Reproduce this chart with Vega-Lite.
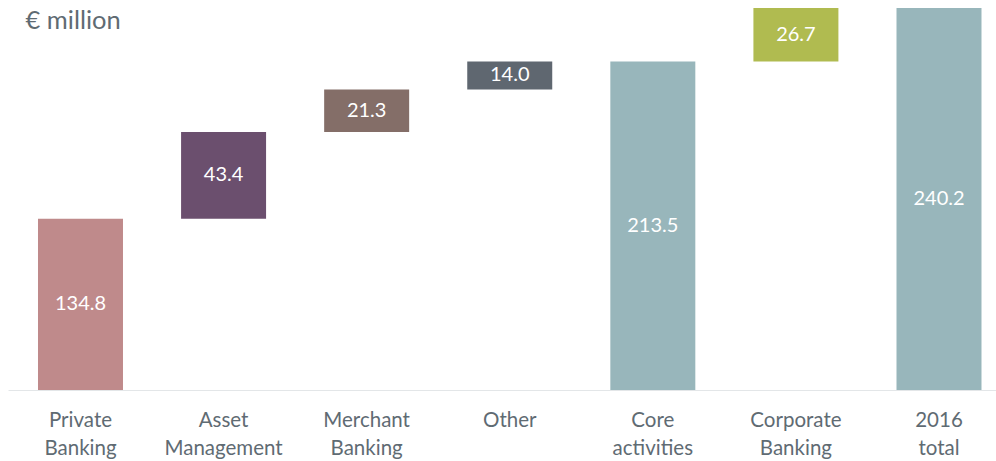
{
  "$schema": "https://vega.github.io/schema/vega-lite/v6.json",
  "autosize": "none",
  "width": 988,
  "height": 382,
  "padding": {"left": 8, "right": 0, "top": 8, "bottom": 71},
  "background": "white",
  "config": {"view": {"stroke": null}, "font": "Lato"},
  "data": {"values": [
    {"cat": "Private Banking", "start": 0, "end": 134.8, "value": "134.8"},
    {"cat": "Asset Management", "start": 134.8, "end": 178.2, "value": "43.4"},
    {"cat": "Merchant Banking", "start": 178.2, "end": 199.5, "value": "21.3"},
    {"cat": "Other", "start": 199.5, "end": 213.5, "value": "14.0"},
    {"cat": "Core activities", "start": 0, "end": 213.5, "value": "213.5"},
    {"cat": "Corporate Banking", "start": 213.5, "end": 240.2, "value": "26.7"},
    {"cat": "2016 total", "start": 0, "end": 240.2, "value": "240.2"}
  ]},
  "transform": [{"calculate": "(max(datum.start, 49.2) + datum.end) / 2", "as": "mid"}],
  "encoding": {
    "x": {"field": "cat", "type": "nominal", "sort": null,
      "scale": {"paddingInner": 0.406, "paddingOuter": 0.1555, "align": 0.674},
      "axis": {"title": null, "labelAngle": 0, "ticks": false, "domainColor": "#e3e6e8", "domainWidth": 1,
        "labelExpr": "split(datum.label, ' ')", "labelFont": "Lato", "labelFontSize": 20.5, "labelLineHeight": 28,
        "labelColor": "#5f6b73", "labelPadding": 20, "labelBaseline": "top"}}
  },
  "layer": [
    {"mark": {"type": "bar"},
     "encoding": {
       "y": {"field": "start", "type": "quantitative", "title": "€ million", "scale": {"domain": [49.2, 240.2], "clamp": true, "nice": false, "zero": false},
         "axis": {"title": "€ million", "labels": false, "ticks": false, "domain": false, "grid": false,
           "titleAngle": 0, "titleAlign": "left", "titleBaseline": "alphabetic", "titleX": 17, "titleY": 20,
           "titleFont": "Lato", "titleFontSize": 25.5, "titleFontWeight": "normal", "titleColor": "#5f6b73"}},
       "y2": {"field": "end"},
       "color": {"field": "cat", "type": "nominal", "legend": null,
         "scale": {"domain": ["Private Banking", "Asset Management", "Merchant Banking", "Other", "Core activities", "Corporate Banking", "2016 total"],
                   "range": ["#bf8a8b", "#6b4f6e", "#846e68", "#5f6770", "#98b6bb", "#b0bb50", "#98b6bb"]}}
     }},
    {"mark": {"type": "text", "color": "white", "fontSize": 20, "font": "Lato", "baseline": "middle", "align": "center"},
     "encoding": {
       "y": {"field": "mid", "type": "quantitative", "title": "€ million", "scale": {"domain": [49.2, 240.2], "clamp": true, "nice": false, "zero": false},
         "axis": {"title": "€ million", "labels": false, "ticks": false, "domain": false, "grid": false,
           "titleAngle": 0, "titleAlign": "left", "titleBaseline": "alphabetic", "titleX": 17, "titleY": 20,
           "titleFont": "Lato", "titleFontSize": 25.5, "titleFontWeight": "normal", "titleColor": "#5f6b73"}},
       "text": {"field": "value"}
     }}
  ]
}
